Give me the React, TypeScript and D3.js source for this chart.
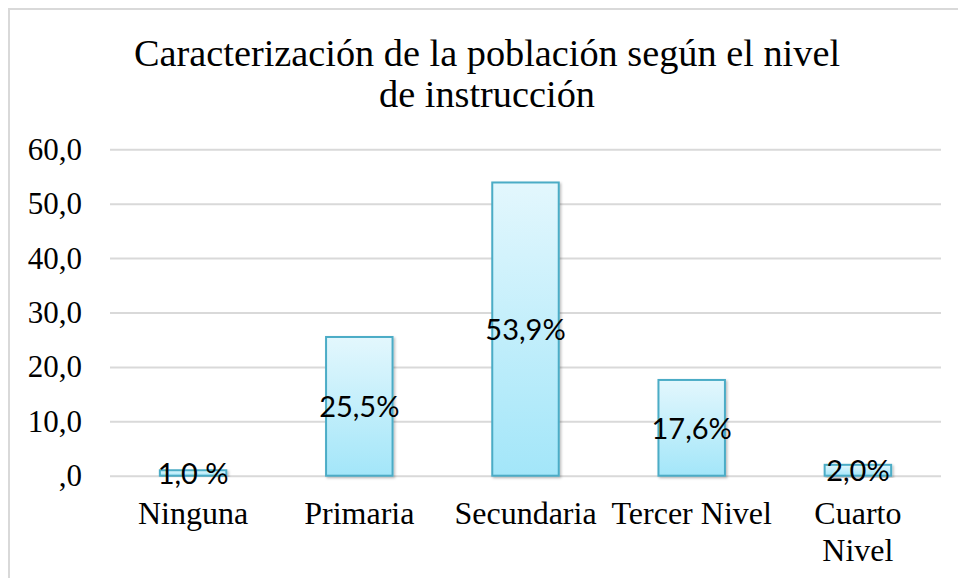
import * as d3 from "d3";
import { useEffect, useRef } from "react";

const categories = ["Ninguna", "Primaria", "Secundaria", "Tercer Nivel", "Cuarto Nivel"];
const categoryLines = [["Ninguna"], ["Primaria"], ["Secundaria"], ["Tercer Nivel"], ["Cuarto", "Nivel"]];
const values = [1.0, 25.5, 53.9, 17.6, 2.0];
const valueLabels = ["1,0 %", "25,5%", "53,9%", "17,6%", "2,0%"];
const yTicks = [0, 10, 20, 30, 40, 50, 60];
const titleLines = ["Caracterización de la población según el nivel", "de instrucción"];

const serif = "'Liberation Serif', 'Times New Roman', serif";
const sans = "Lato, 'Liberation Sans', sans-serif";

function BarChart({
    width = 958,
    height = 578,
    marginTop = 149.3,
    marginRight = 17,
    marginLeft = 110,
    plotBottom = 475.7
}) {
    const svgRef = useRef(null);

    useEffect(() => {
        const svg = d3.select(svgRef.current);
        svg.selectAll("*").remove();

        const x = d3.scaleBand(categories, [marginLeft, width - marginRight]).paddingInner(0.6).paddingOuter(0.3);
        const y = d3.scaleLinear([0, 60], [plotBottom, marginTop]);

        const defs = svg.append("defs");
        const grad = defs.append("linearGradient")
            .attr("id", "barFill").attr("x1", 0).attr("y1", 0).attr("x2", 0).attr("y2", 1);
        grad.append("stop").attr("offset", "0%").attr("stop-color", "#e3f7fd");
        grad.append("stop").attr("offset", "100%").attr("stop-color", "#a3e6f9");
        const shadow = defs.append("filter").attr("id", "shadow")
            .attr("x", "-20%").attr("y", "-20%").attr("width", "140%").attr("height", "140%");
        shadow.append("feDropShadow")
            .attr("dx", 1.5).attr("dy", 1.5).attr("stdDeviation", 1.2)
            .attr("flood-color", "#000").attr("flood-opacity", 0.25);

        // chart border
        svg.append("rect")
            .attr("x", 9).attr("y", 9)
            .attr("width", width + 20).attr("height", height + 20)
            .attr("fill", "white")
            .attr("stroke", "#d9d9d9").attr("stroke-width", 2);

        // title
        svg.append("text")
            .attr("text-anchor", "middle")
            .attr("font-family", serif)
            .attr("font-size", 38.3)
            .attr("fill", "#000")
            .selectAll("tspan").data(titleLines).join("tspan")
            .attr("x", 487)
            .attr("y", (d, i) => 66 + i * 41)
            .text(d => d);

        // y axis + gridlines
        const yAxis = d3.axisLeft(y)
            .tickValues(yTicks)
            .tickSize(-(width - marginRight - marginLeft))
            .tickPadding(28)
            .tickFormat(d => d === 0 ? ",0" : d3.format(".1f")(d).replace(".", ","));

        const gy = svg.append("g")
            .attr("transform", `translate(${marginLeft},0)`)
            .call(yAxis);
        gy.select(".domain").remove();
        gy.selectAll(".tick line").attr("stroke", "#d9d9d9").attr("stroke-width", 2);
        gy.selectAll(".tick text")
            .attr("font-family", serif)
            .attr("font-size", 31)
            .attr("fill", "#000");

        // bars
        svg.append("g").selectAll("rect").data(values).join("rect")
            .attr("x", (d, i) => x(categories[i]))
            .attr("y", d => y(d))
            .attr("width", x.bandwidth())
            .attr("height", d => y(0) - y(d))
            .attr("fill", "url(#barFill)")
            .attr("stroke", "#4bacc6")
            .attr("stroke-width", 2)
            .attr("filter", "url(#shadow)");

        // value labels
        svg.append("g").selectAll("text").data(values).join("text")
            .attr("x", (d, i) => x(categories[i]) + x.bandwidth() / 2)
            .attr("y", d => (y(d) + y(0)) / 2 + 11)
            .attr("text-anchor", "middle")
            .attr("font-family", sans)
            .attr("font-size", 29)
            .attr("fill", "#000")
            .text((d, i) => valueLabels[i]);

        // x axis labels
        const xAxis = d3.axisBottom(x).tickSize(0).tickPadding(0);
        const gx = svg.append("g")
            .attr("transform", `translate(0,${plotBottom})`)
            .call(xAxis);
        gx.select(".domain").remove();
        gx.selectAll(".tick text")
            .attr("font-family", serif)
            .attr("font-size", 32)
            .attr("fill", "#000")
            .attr("dy", null)
            .attr("y", 0)
            .text(null)
            .each(function (d, i) {
                d3.select(this).selectAll("tspan").data(categoryLines[i]).join("tspan")
                    .attr("x", 0)
                    .attr("y", (t, j) => 48 + j * 37)
                    .text(t => t);
            });
    }, []);

    return (
        <svg ref={svgRef} width={width} height={height}
            style={{ position: "absolute", left: 0, top: 0 }} />
    );
}

export default function App() {
    return <BarChart />;
}
